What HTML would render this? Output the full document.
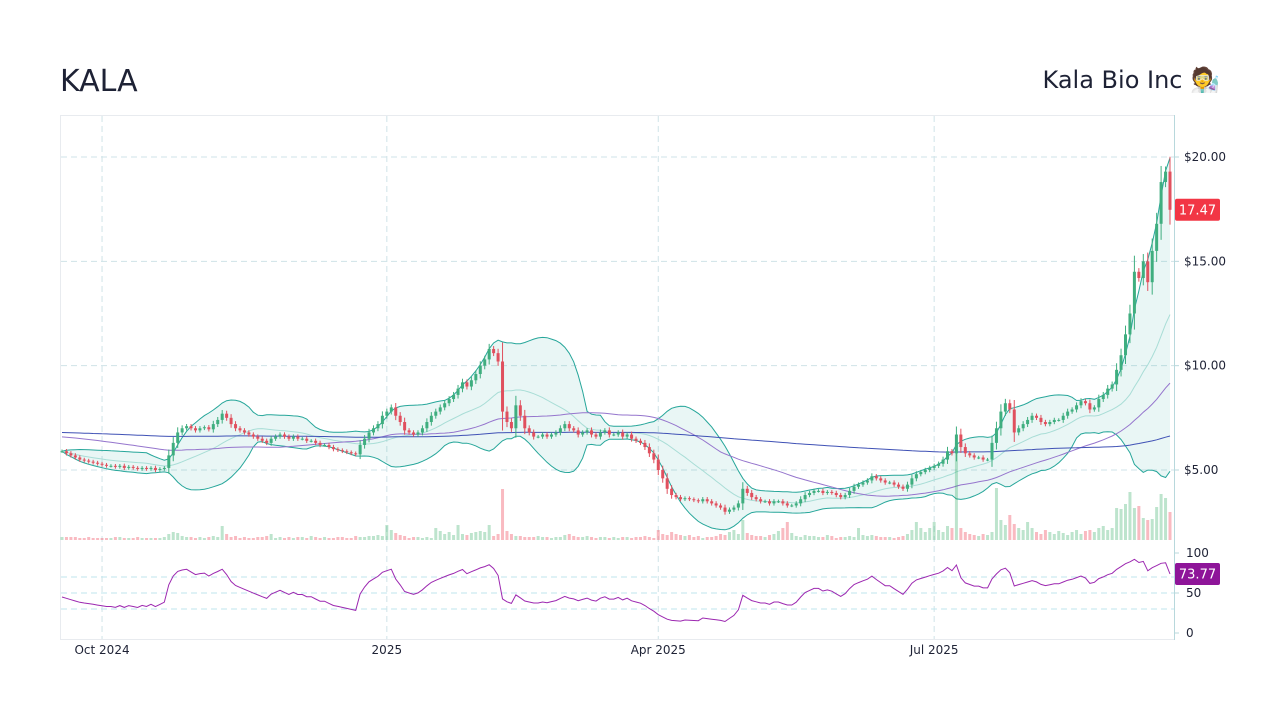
<!DOCTYPE html>
<html><head><meta charset="utf-8"><style>
body{margin:0;background:#fff;font-family:"DejaVu Sans","Liberation Sans",sans-serif;}
#wrap{position:relative;width:1280px;height:720px;overflow:hidden;}
.t{position:absolute;color:#1e2235;}
</style></head><body>
<div id="wrap">
<div class="t" style="left:60px;top:64px;font-size:30px;">KALA</div>
<div class="t" style="right:60px;top:66px;font-size:24px;">Kala Bio Inc 🧑‍🔬</div>
<svg id="svg" width="1280" height="720" style="position:absolute;left:0;top:0;font-family:'DejaVu Sans','Liberation Sans',sans-serif"></svg>
</div>
<script>
const closes=[5.9,5.8,5.7,5.6,5.5,5.45,5.4,5.35,5.3,5.25,
5.2,5.2,5.15,5.2,5.1,5.15,5.1,5.05,5.1,5.05,
5.1,5.0,5.05,5.1,5.7,6.3,6.8,7.0,7.1,7.0,
6.9,7.0,7.05,6.95,7.2,7.4,7.7,7.5,7.2,7.0,
6.9,6.8,6.7,6.6,6.5,6.4,6.3,6.5,6.6,6.7,
6.6,6.5,6.6,6.5,6.5,6.4,6.4,6.3,6.2,6.2,
6.1,6.0,5.95,5.9,5.85,5.8,5.75,6.2,6.5,6.8,
7.0,7.2,7.6,7.8,8.0,7.6,7.3,6.9,6.8,6.7,
6.8,7.0,7.3,7.6,7.8,8.0,8.2,8.4,8.6,8.9,
9.2,9.0,9.3,9.6,10.0,10.3,10.8,10.6,10.2,7.8,
7.3,7.0,8.1,7.6,7.0,6.8,6.6,6.6,6.7,6.6,
6.7,6.8,7.0,7.2,7.0,6.9,6.7,6.8,6.9,6.7,
6.6,6.8,6.9,6.7,6.7,6.8,6.6,6.7,6.5,6.4,
6.3,6.1,5.8,5.5,5.0,4.6,4.1,3.8,3.7,3.6,
3.65,3.6,3.55,3.5,3.6,3.5,3.4,3.3,3.2,3.0,
3.1,3.2,3.4,4.1,3.9,3.7,3.6,3.5,3.5,3.4,
3.5,3.5,3.4,3.3,3.3,3.4,3.6,3.8,3.9,4.0,
4.0,3.9,3.95,3.9,3.8,3.7,3.8,4.0,4.2,4.3,
4.4,4.5,4.7,4.6,4.5,4.4,4.4,4.3,4.2,4.1,
4.3,4.6,4.8,4.9,5.0,5.1,5.2,5.3,5.5,5.9,
5.8,6.7,6.1,5.8,5.7,5.6,5.6,5.5,5.5,6.3,
7.0,7.8,8.2,7.9,6.8,7.0,7.2,7.4,7.6,7.5,
7.3,7.2,7.3,7.4,7.4,7.6,7.8,7.9,8.1,8.3,
8.2,7.9,8.0,8.4,8.6,8.9,9.1,9.8,10.5,11.5,
12.5,14.5,14.2,15.0,14.0,15.5,16.8,18.8,19.3,17.47];
const volumes=[3,3,3,3,2,2,3,2,2,2,
2,2,3,3,2,2,2,3,2,2,
2,2,2,3,6,8,7,4,3,3,
2,3,2,3,4,3,14,6,3,4,
2,3,2,2,3,3,4,6,2,3,
2,3,2,3,3,2,4,3,2,3,
2,2,3,3,2,2,4,3,3,4,
4,5,4,15,10,7,5,4,2,3,
3,2,3,2,12,9,6,8,5,15,
6,5,7,8,9,8,15,4,6,51,
9,6,4,4,3,3,3,4,3,3,
2,3,3,5,6,4,3,3,4,3,
2,3,3,2,3,2,3,3,2,3,
3,4,3,2,10,6,5,8,6,5,
4,5,3,4,2,3,3,4,6,5,
8,10,6,20,7,5,4,4,3,5,
6,9,12,18,7,4,3,5,4,4,
3,3,5,4,2,3,3,4,3,12,
5,4,5,4,3,3,3,2,3,4,
6,10,18,12,8,12,18,10,8,14,
12,97,12,8,6,5,4,6,5,8,
52,20,15,25,16,12,10,18,12,8,
6,10,8,6,9,7,5,8,10,6,
9,10,8,12,14,10,12,32,31,36,
48,32,34,22,20,21,33,46,42,28];
const priceTicks=[5,10,15,20];
const priceTickLabels=["$5.00","$10.00","$15.00","$20.00"];
const timeTicks=[{i:9,label:"Oct 2024"},{i:73,label:"2025"},{i:134,label:"Apr 2025"},{i:196,label:"Jul 2025"}];
const rsiTicks=[0,50,100];
const rsiLevels=[30,50,70];
const priorLevel=6.6;

const svg=document.getElementById('svg');
const NS='http://www.w3.org/2000/svg';
function mk(tag,attrs,parent){const e=document.createElementNS(NS,tag);for(const k in attrs)e.setAttribute(k,attrs[k]);(parent||svg).appendChild(e);return e;}
const N=closes.length;
const X0=62,X1=1170;
const xs=i=>X0+i*(X1-X0)/(N-1);
const yP=p=>157+(20-p)*20.867;
const yV=v=>540-v;
const yR=r=>633-r*0.8;

let e=mk('rect',{x:60.5,y:115.5,width:1114,height:524,fill:'none',stroke:'#e8ebef'});

e=mk('line',{x1:1174.5,y1:115,x2:1174.5,y2:640,stroke:'#b8d8dc'});

timeTicks.forEach(t=>{const x=xs(t.i);
 const g=mk('line',{x1:x,y1:116,x2:x,y2:639,stroke:'#cfe3e8','stroke-dasharray':'6,4'});
 
 const tx=mk('text',{x:x,y:654,'font-size':12,'text-anchor':'middle',fill:'#1e2235'});tx.textContent=t.label;
 });
priceTicks.forEach((p,k)=>{const y=yP(p);
 const g=mk('line',{x1:61,y1:y,x2:1174,y2:y,stroke:'#cfe3e8','stroke-dasharray':'6,4'});
 
 mk('line',{x1:1174,y1:y,x2:1179,y2:y,stroke:'#b8d8dc'});
 const tx=mk('text',{x:1184,y:y+4,'font-size':12,fill:'#1e2235'});tx.textContent=priceTickLabels[k];
 });
rsiLevels.forEach(r=>{const g=mk('line',{x1:61,y1:yR(r),x2:1174,y2:yR(r),stroke:'#bfe6ee','stroke-dasharray':'6,4'});
 });
rsiTicks.forEach(r=>{const y=yR(r);mk('line',{x1:1174,y1:y,x2:1179,y2:y,stroke:'#b8d8dc'});
 const tx=mk('text',{x:1186,y:y+4,'font-size':12,fill:'#1e2235'});tx.textContent=String(r);
 });

const opens=closes.map((c,i)=>i?closes[i-1]:c);
function sma(n,seed){return closes.map((c,i)=>{let s=0;for(let k=i-n+1;k<=i;k++)s+=(k<0?seed:closes[k]);return s/n;});}
const mid=[],up=[],lo=[];
for(let i=0;i<N;i++){const a=Math.max(0,i-19);const w=closes.slice(a,i+1);const m=w.reduce((s,v)=>s+v,0)/w.length;
 const sd=Math.sqrt(w.reduce((s,v)=>s+(v-m)*(v-m),0)/w.length);mid.push(m);up.push(m+2*sd);lo.push(m-2*sd);}
const s50=sma(50,priorLevel),s200=sma(200,priorLevel+0.2);
const pts=a=>a.map((v,i)=>xs(i).toFixed(1)+','+yP(v).toFixed(1));
e=mk('polygon',{points:pts(up).concat(pts(lo).reverse()).join(' '),fill:'rgba(38,166,154,0.1)',stroke:'none'});

[[up,'#26a69a','bollinger-upper'],[lo,'#26a69a','bollinger-lower'],[mid,'#a8ddd6','bollinger-middle'],[s50,'#9575cd','sma-50'],[s200,'#3f51b5','sma-200']].forEach(([a,c,n])=>{
 const l=mk('polyline',{points:pts(a).join(' '),fill:'none',stroke:c,'stroke-width':1});
 });

volumes.forEach((v,i)=>{const g=closes[i]>=opens[i];
 const r=mk('rect',{x:xs(i)-1.5,y:yV(v),width:3,height:v,fill:g?'rgba(38,166,91,0.3)':'rgba(239,83,100,0.4)'});
 });
closes.forEach((c,i)=>{const o=opens[i];const g=c>=o;const col=g?'#3fae7f':'#e0505e';
 const w=Math.max(0.08,Math.abs(c-o)*0.35+0.07);
 const hi=Math.max(o,c)+w,lw=Math.min(o,c)-w;const x=xs(i);
 const grp=mk('g',{});
 mk('line',{x1:x,y1:yP(hi),x2:x,y2:yP(lw),stroke:col,'stroke-width':1},grp);
 const t=yP(Math.max(o,c)),b=yP(Math.min(o,c));
 mk('rect',{x:x-1.5,y:t,width:3,height:Math.max(1,b-t),fill:col},grp);});

const rsi=[];let ag=0.09,al=0.11;
for(let i=0;i<N;i++){if(i===0){rsi.push(100-100/(1+ag/al));continue;}const d=closes[i]-closes[i-1];const gg=Math.max(d,0),ll=Math.max(-d,0);
 ag=(ag*13+gg)/14;al=(al*13+ll)/14;rsi.push(al===0?100:100-100/(1+ag/al));}
e=mk('polyline',{points:rsi.map((r,i)=>xs(i).toFixed(1)+','+yR(r).toFixed(1)).join(' '),fill:'none',stroke:'#9c27b0','stroke-width':1});


const last=closes[N-1];
const lb=mk('g',{});
mk('rect',{x:1175,y:yP(last)-11,width:45,height:22,rx:2,fill:'#f23645'},lb);
let tx=mk('text',{x:1197.5,y:yP(last)+4.5,'font-size':13,'text-anchor':'middle',fill:'#fff'},lb);tx.textContent=last.toFixed(2);
const lr=rsi[N-1];
const rb=mk('g',{});
mk('rect',{x:1175,y:yR(lr)-11,width:45,height:22,rx:2,fill:'#8e1599'},rb);
tx=mk('text',{x:1197.5,y:yR(lr)+4.5,'font-size':13,'text-anchor':'middle',fill:'#fff'},rb);tx.textContent=lr.toFixed(2);
</script>
</body></html>
